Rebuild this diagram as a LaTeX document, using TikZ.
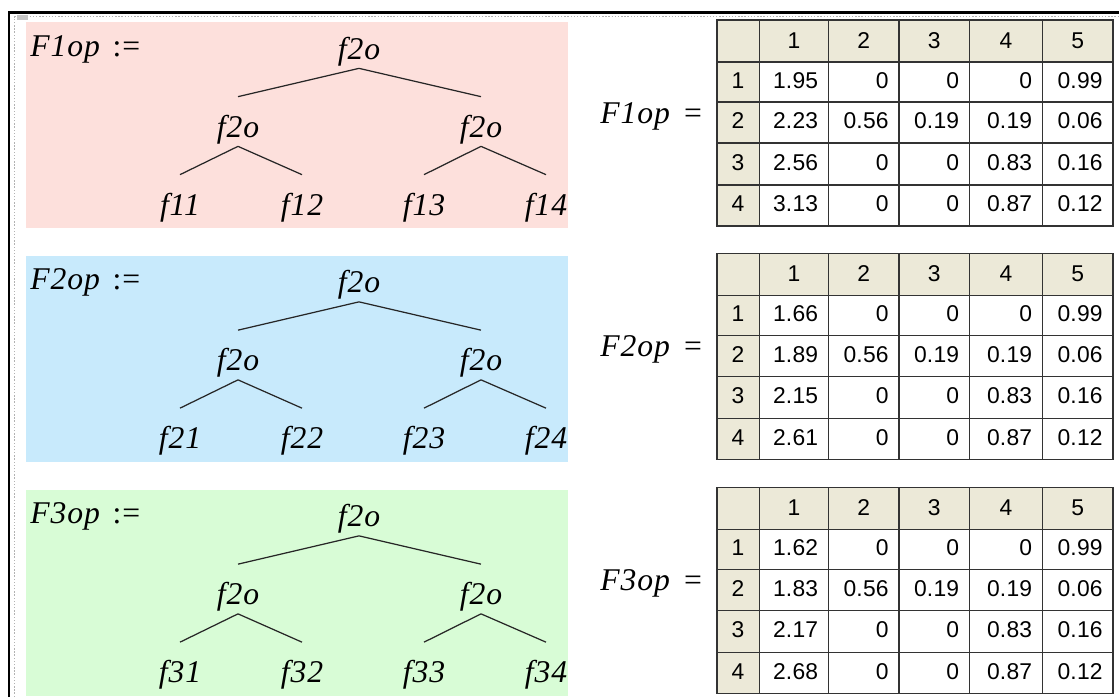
\documentclass[tikz,border=0pt]{standalone}
\usepackage{fontspec}
\setmainfont{Liberation Serif}
\newfontfamily\mcfont[LetterSpace=3]{Liberation Serif}
\newfontfamily\tabfont[LetterSpace=1]{Liberation Sans}
\usepackage{tikz}
\usetikzlibrary{positioning}

\definecolor{panelA}{RGB}{253,224,220}
\definecolor{panelB}{RGB}{200,234,252}
\definecolor{panelC}{RGB}{216,252,214}
\definecolor{cellhead}{RGB}{236,233,216}

\tikzset{
  lbl/.style={font=\mcfont\fontsize{18}{20}\selectfont\itshape, inner sep=0pt,
    anchor=base, text height=0.8cm, text depth=0.18cm},
  br/.style={line width=0.7pt, black!85},
  grid/.style={line width=0.9pt, black!80},
  num/.style={font=\tabfont\fontsize{13}{15}\selectfont, inner sep=0pt, anchor=base},
}

\begin{document}
\begin{tikzpicture}[x=0.02cm, y=-0.02cm]
  \useasboundingbox (0,0) rectangle (1119,697);

  % cornice del foglio
  \draw[gray!60, densely dotted, line width=0.8pt] (14.5,697) -- (14.5,16.5) -- (1119,16.5);
  \draw[line width=1.4pt] (9,697) -- (9,12.5) -- (1119,12.5);
  \fill[gray!45] (17,14.5) rectangle (28,20);

  \foreach \k/\off/\col/\fa/\fb/\fc/\fd in {1/0/panelA/1.95/2.23/2.56/3.13,
      2/233.5/panelB/1.66/1.89/2.15/2.61, 3/467.5/panelC/1.62/1.83/2.17/2.68}{
    % ---- albero ----
    \fill[\col] (26,22+\off) rectangle (568,228+\off);
    \node[lbl, anchor=base west] (def\k) at (30,56+\off) {F\k op\hspace{0.4em}\upshape :=};
    \node[lbl] (root\k) at (359,59+\off) {f2o};
    \node[lbl] (ml\k) at (238,137+\off) {f2o};
    \node[lbl] (mr\k) at (481,137+\off) {f2o};
    \node[lbl] (lf\k-1) at (180,215+\off) {f\k1};
    \node[lbl] (lf\k-2) at (302,215+\off) {f\k2};
    \node[lbl] (lf\k-3) at (424,215+\off) {f\k3};
    \node[lbl] (lf\k-4) at (546,215+\off) {f\k4};
    \draw[br] (root\k.south) -- (ml\k.north);
    \draw[br] (root\k.south) -- (mr\k.north);
    \draw[br] (ml\k.south) -- (lf\k-1.north);
    \draw[br] (ml\k.south) -- (lf\k-2.north);
    \draw[br] (mr\k.south) -- (lf\k-3.north);
    \draw[br] (mr\k.south) -- (lf\k-4.north);

    % ---- tabella ----
    \node[lbl, anchor=base west] (eq\k) at (600,123+\off) {F\k op\hspace{0.45em}\upshape =};
    \fill[cellhead] (717,20+\off) rectangle (1113,62+\off);
    \fill[cellhead] (717,62+\off) rectangle (759.5,226+\off);
    \foreach \x in {759.5,828.5,899,969.5,1042.5}
      \draw[grid] (\x,20+\off) -- (\x,226+\off);
    \foreach \y in {62,102,143,185}
      \draw[grid] (717,\y+\off) -- (1113,\y+\off);
    \draw[grid] (717,20+\off) rectangle (1113,226+\off);

    \foreach \j/\x in {1/794,2/863.75,3/934.25,4/1006,5/1077.75}
      \node[num] (h\k-\j) at (\x,48+\off) {\j};
    \foreach \i/\y in {1/88,2/128.5,3/170,4/211.5}
      \node[num] (r\k-\i) at (738,\y+\off) {\i};
    \foreach \j/\xr/\va/\vb/\vc/\vd in {1/818.5/\fa/\fb/\fc/\fd, 2/889/0/0.56/0/0,
        3/959.5/0/0.19/0/0, 4/1032.5/0/0.19/0.83/0.87, 5/1103/0.99/0.06/0.16/0.12}
      \foreach \i/\y/\val in {1/88/\va, 2/128.5/\vb, 3/170/\vc, 4/211.5/\vd}
        \node[num, anchor=base east] (c\k-\i-\j) at (\xr,\y+\off) {\val};
  }
\end{tikzpicture}
\end{document}
